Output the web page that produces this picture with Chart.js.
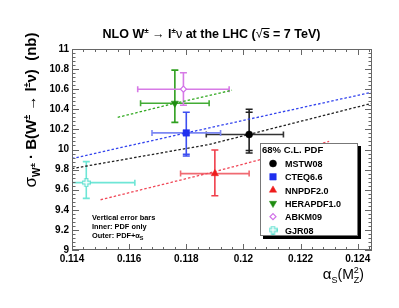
<!DOCTYPE html>
<html><head><meta charset="utf-8">
<script src="https://cdn.jsdelivr.net/npm/chart.js@4"></script>
<style>html,body{margin:0;padding:0;background:#fff;}#wrap{width:399px;height:308px;}</style>
</head><body><div id="wrap"><canvas id="c" width="399" height="308"></canvas></div>
<script>
// ---- data ----
const pdfNames = ['MSTW08', 'CTEQ6.6', 'NNPDF2.0', 'HERAPDF1.0', 'ABKM09', 'GJR08'];
const alphaS   = [0.1202, 0.1180, 0.1190, 0.1176, 0.1179, 0.1145];
const alphaLo  = [0.1187, 0.1168, 0.1178, 0.1164, 0.1163, 0.1127];
const alphaHi  = [0.1214, 0.1192, 0.1202, 0.1188, 0.1195, 0.1162];
const sigma    = [10.15, 10.165, 9.76, 10.46, 10.60, 9.67];
const innerLo  = [9.99, 9.952, 9.54, 10.27, 10.44, 9.514];
const innerHi  = [10.37, 10.37, 9.995, 10.79, 10.764, 9.879];
const outerLo  = [9.965, 9.935, 9.54, 10.27, 10.44, 9.514];
const outerHi  = [10.40, 10.37, 9.995, 10.79, 10.764, 9.879];

const mstwCurveX  = [0.1140, 0.1188, 0.1245];
const mstwCurveY  = [9.81, 10.05, 10.46];
const cteqCurveX  = [0.1140, 0.1180, 0.1245];
const cteqCurveY  = [9.91, 10.165, 10.57];
const nnpdfCurveX = [0.1150, 0.1190, 0.1230];
const nnpdfCurveY = [9.50, 9.78, 10.08];
const heraCurveX  = [0.1156, 0.1176, 0.1196];
const heraCurveY  = [10.32, 10.46, 10.59];

const xTicks = [0.114, 0.116, 0.118, 0.120, 0.122, 0.124];
const xTickLabels = ['0.114', '0.116', '0.118', '0.12', '0.122', '0.124'];
const yTicks = [9, 9.2, 9.4, 9.6, 9.8, 10, 10.2, 10.4, 10.6, 10.8, 11];
const yTickLabels = ['9', '9.2', '9.4', '9.6', '9.8', '10', '10.2', '10.4', '10.6', '10.8', '11'];

// ---- styles ----
const FF = '"Liberation Sans", Arial, sans-serif';
const markerColors = ['#000000', '#1f2fee', '#ee1c1c', '#1e8c10', '#d070e8', '#5fe0d0'];
const markerFill   = ['#000000', '#1f2fee', '#ee1c1c', '#1e8c10', '#ffffff', '#ffffff'];
const vBarColors   = ['#222222', '#3c4ef0', '#f0404c', '#2fa01f', '#d77ae6', '#6ee6d6'];
const hBarColors   = ['#333333', '#7c88f4', '#f06a72', '#43ac35', '#d77ae6', '#6ee6d6'];

function makeOpenCross(color) {
  const c = document.createElement('canvas');
  c.width = 9; c.height = 9;
  const g = c.getContext('2d');
  g.fillStyle = '#fff'; g.strokeStyle = color; g.lineWidth = 1.2;
  g.beginPath();
  const a = 2.8, b = 4.0, o = 4.5;
  g.moveTo(o - a/2, o - b); g.lineTo(o + a/2, o - b); g.lineTo(o + a/2, o - a/2);
  g.lineTo(o + b, o - a/2); g.lineTo(o + b, o + a/2); g.lineTo(o + a/2, o + a/2);
  g.lineTo(o + a/2, o + b); g.lineTo(o - a/2, o + b); g.lineTo(o - a/2, o + a/2);
  g.lineTo(o - b, o + a/2); g.lineTo(o - b, o - a/2); g.lineTo(o - a/2, o - a/2);
  g.closePath(); g.fill(); g.stroke();
  return c;
}
const crossImg = makeOpenCross('#5fe0d0');
const pointStyles = ['circle', 'rect', 'triangle', 'triangle', 'rectRot', crossImg];
const rotations = [0, 0, 0, 180, 0, 0];
const radii = [3.5, 4.6, 4.2, 4.2, 3.0, 4.5];

const datasets = [];
pdfNames.forEach((n, i) => {
  datasets.push({
    label: n, data: [{x: alphaS[i], y: sigma[i]}],
    pointStyle: pointStyles[i], rotation: rotations[i], pointRadius: radii[i],
    backgroundColor: markerFill[i], borderColor: markerColors[i], borderWidth: i >= 4 ? 1.2 : 0.5,
    order: 0
  });
});
const curves = [
  [mstwCurveX, mstwCurveY, '#222222'],
  [cteqCurveX, cteqCurveY, '#3344ee'],
  [nnpdfCurveX, nnpdfCurveY, '#f04858'],
  [heraCurveX, heraCurveY, '#33aa22']
];
curves.forEach(([xs, ys, col]) => {
  datasets.push({
    data: xs.map((x, k) => ({x, y: ys[k]})), showLine: true, borderColor: col,
    borderWidth: 1.3, borderDash: [2.5, 2], pointRadius: 0, fill: false, order: 2
  });
});

// rich text helper
function layoutRich(ctx, segs) {
  let cur = 0, prevStart = 0; const items = [];
  for (const s of segs) {
    ctx.font = s.f; const w = ctx.measureText(s.t).width;
    const start = s.same ? prevStart : cur;
    items.push({s, start, w}); cur = Math.max(cur, start + w); prevStart = start;
  }
  return {items, width: cur};
}
function drawRich(ctx, segs, x, y, align) {
  const L = layoutRich(ctx, segs);
  const x0 = align === 'center' ? x - L.width / 2 : align === 'right' ? x - L.width : x;
  for (const it of L.items) {
    ctx.font = it.s.f;
    ctx.fillText(it.s.t, x0 + it.start, y + (it.s.dy || 0));
    if (it.s.over) {
      ctx.save(); ctx.lineWidth = 1; ctx.strokeStyle = ctx.fillStyle;
      ctx.beginPath(); const yy = y - it.s.over;
      ctx.moveTo(x0 + it.start - 1, yy); ctx.lineTo(x0 + it.start + it.w, yy); ctx.stroke();
      ctx.restore();
    }
  }
}

const errorBarPlugin = {
  id: 'errbars',
  beforeDatasetsDraw(chart) {
    const ctx = chart.ctx, xa = chart.scales.x, ya = chart.scales.y, ca = chart.chartArea;
    ctx.save();
    ctx.beginPath(); ctx.rect(ca.left, ca.top, ca.right - ca.left, ca.bottom - ca.top); ctx.clip();
    ctx.lineWidth = 1.6;
    pdfNames.forEach((n, i) => {
      const cx = xa.getPixelForValue(alphaS[i]), cy = ya.getPixelForValue(sigma[i]);
      const xl = xa.getPixelForValue(alphaLo[i]), xh = xa.getPixelForValue(alphaHi[i]);
      ctx.strokeStyle = hBarColors[i];
      ctx.beginPath();
      ctx.moveTo(xl, cy); ctx.lineTo(xh, cy);
      ctx.moveTo(xl, cy - 3); ctx.lineTo(xl, cy + 3);
      ctx.moveTo(xh, cy - 3); ctx.lineTo(xh, cy + 3);
      ctx.stroke();
      ctx.strokeStyle = vBarColors[i];
      const yol = ya.getPixelForValue(outerLo[i]), yoh = ya.getPixelForValue(outerHi[i]);
      const yil = ya.getPixelForValue(innerLo[i]), yih = ya.getPixelForValue(innerHi[i]);
      ctx.beginPath();
      ctx.moveTo(cx, yol); ctx.lineTo(cx, yoh);
      [yol, yoh, yil, yih].forEach(yy => { ctx.moveTo(cx - 3.5, yy); ctx.lineTo(cx + 3.5, yy); });
      ctx.stroke();
    });
    ctx.restore();
  }
};

const framePlugin = {
  id: 'frame',
  afterDraw(chart) {
    const ctx = chart.ctx, xa = chart.scales.x, ya = chart.scales.y, ca = chart.chartArea;
    ctx.save();
    ctx.strokeStyle = '#666'; ctx.lineWidth = 1;
    ctx.strokeRect(ca.left + 0.5, ca.top + 0.5, ca.right - ca.left - 1, ca.bottom - ca.top - 1);
    ctx.beginPath();
    for (let k = 0; ; k++) {
      const v = 0.114 + k * 0.0004; if (v > 0.12451) break;
      const px = Math.round(xa.getPixelForValue(v)) + 0.5;
      const len = (k % 5 === 0) ? 6 : 3;
      ctx.moveTo(px, ca.bottom); ctx.lineTo(px, ca.bottom - len);
      ctx.moveTo(px, ca.top); ctx.lineTo(px, ca.top + len);
    }
    for (let k = 0; ; k++) {
      const v = 9 + k * 0.04; if (v > 11.001) break;
      const py = Math.round(ya.getPixelForValue(v)) + 0.5;
      const len = (k % 5 === 0) ? 7 : 3.5;
      ctx.moveTo(ca.left, py); ctx.lineTo(ca.left + len, py);
      ctx.moveTo(ca.right, py); ctx.lineTo(ca.right - len, py);
    }
    ctx.stroke();

    ctx.fillStyle = '#000';
    ctx.textBaseline = 'alphabetic';
    // title
    drawRich(ctx, [
      {t: 'NLO W', f: 'bold 12.5px ' + FF},
      {t: '±', f: 'bold 8px ' + FF, dy: -5},
      {t: ' → ', f: '12.5px ' + FF},
      {t: 'l', f: 'bold 12.5px ' + FF},
      {t: '±', f: 'bold 8px ' + FF, dy: -5},
      {t: 'ν', f: '12.5px ' + FF},
      {t: ' at the LHC (', f: 'bold 12.5px ' + FF},
      {t: '√', f: '12.5px ' + FF},
      {t: 's', f: 'bold 12.5px ' + FF, over: 9.5},
      {t: ' = 7 TeV)', f: 'bold 12.5px ' + FF}
    ], 211.5, 38, 'center');

    // y title
    ctx.save();
    ctx.translate(35.5, 110); ctx.rotate(-Math.PI / 2);
    drawRich(ctx, [
      {t: 'σ', f: '17px ' + FF},
      {t: 'W', f: 'bold 10px ' + FF, dy: 4},
      {t: '±', f: 'bold 8px ' + FF, dy: -1},
      {t: ' · B(W', f: 'bold 15px ' + FF},
      {t: '±', f: 'bold 9px ' + FF, dy: -6},
      {t: ' → l', f: 'bold 15px ' + FF},
      {t: '±', f: 'bold 9px ' + FF, dy: -6},
      {t: 'ν)  (nb)', f: 'bold 15px ' + FF}
    ], 0, 0, 'center');
    ctx.restore();

    // x title
    drawRich(ctx, [
      {t: 'α', f: '15px ' + FF},
      {t: 'S', f: '9px ' + FF, dy: 4},
      {t: '(M', f: '14px ' + FF},
      {t: '2', f: '9px ' + FF, dy: -6},
      {t: 'Z', f: '9px ' + FF, dy: 4, same: true},
      {t: ')', f: '14px ' + FF}
    ], 364, 279, 'right');

    // note
    ctx.font = 'bold 7.4px ' + FF;
    ctx.fillText('Vertical error bars', 92, 220);
    ctx.fillText('Inner: PDF only', 92, 228.5);
    drawRich(ctx, [
      {t: 'Outer: PDF+α', f: 'bold 7.4px ' + FF},
      {t: 'S', f: 'bold 5.5px ' + FF, dy: 2}
    ], 92, 237.5, 'left');

    // legend
    const L = 260, T = 143, W = 98, H = 93;
    ctx.fillStyle = '#000'; ctx.fillRect(L + 3, T + 3, W, H);
    ctx.fillStyle = '#fff'; ctx.fillRect(L, T, W, H);
    ctx.strokeStyle = '#777'; ctx.lineWidth = 1; ctx.strokeRect(L + 0.5, T + 0.5, W - 1, H - 1);
    ctx.fillStyle = '#000';
    ctx.font = 'bold 9.5px ' + FF;
    ctx.fillText('68% C.L. PDF', 262, 152.5);
    pdfNames.forEach((n, i) => {
      const yy = 163.5 + i * 13.3;
      ctx.save();
      ctx.fillStyle = markerFill[i]; ctx.strokeStyle = markerColors[i];
      ctx.lineWidth = i >= 4 ? 1.2 : 0.5;
      Chart.helpers.drawPoint(ctx, {pointStyle: pointStyles[i], radius: radii[i], rotation: rotations[i], borderWidth: ctx.lineWidth}, 273, yy);
      ctx.restore();
      ctx.fillStyle = '#000';
      ctx.font = 'bold 9px ' + FF;
      ctx.fillText(n, 285, yy + 3.5);
    });
    ctx.restore();
  }
};

new Chart(document.getElementById('c'), {
  type: 'scatter',
  data: {datasets},
  options: {
    responsive: false, animation: false,
    layout: {padding: {left: 0, right: 27, top: 49, bottom: 0}},
    plugins: {legend: {display: false}, tooltip: {enabled: false}, title: {display: false}},
    scales: {
      x: {
        type: 'linear', min: 0.114, max: 0.1245,
        grid: {display: false, drawTicks: false}, border: {display: false},
        afterFit(s) { s.height = 58; },
        afterBuildTicks(s) { s.ticks = xTicks.map(v => ({value: v})); },
        ticks: {
          padding: 3, color: '#000', font: {family: FF, size: 10, weight: 'bold'},
          maxRotation: 0, autoSkip: false,
          callback: (v) => { const k = xTicks.findIndex(t => Math.abs(t - v) < 1e-9); return k >= 0 ? xTickLabels[k] : ''; }
        }
      },
      y: {
        type: 'linear', min: 9, max: 11,
        grid: {display: false, drawTicks: false}, border: {display: false},
        afterFit(s) { s.width = 72; },
        afterBuildTicks(s) { s.ticks = yTicks.map(v => ({value: v})); },
        ticks: {
          padding: 3, color: '#000', font: {family: FF, size: 10, weight: 'bold'}, autoSkip: false,
          callback: (v) => { const k = yTicks.findIndex(t => Math.abs(t - v) < 1e-9); return k >= 0 ? yTickLabels[k] : ''; }
        }
      }
    }
  },
  plugins: [errorBarPlugin, framePlugin]
});
</script></body></html>
